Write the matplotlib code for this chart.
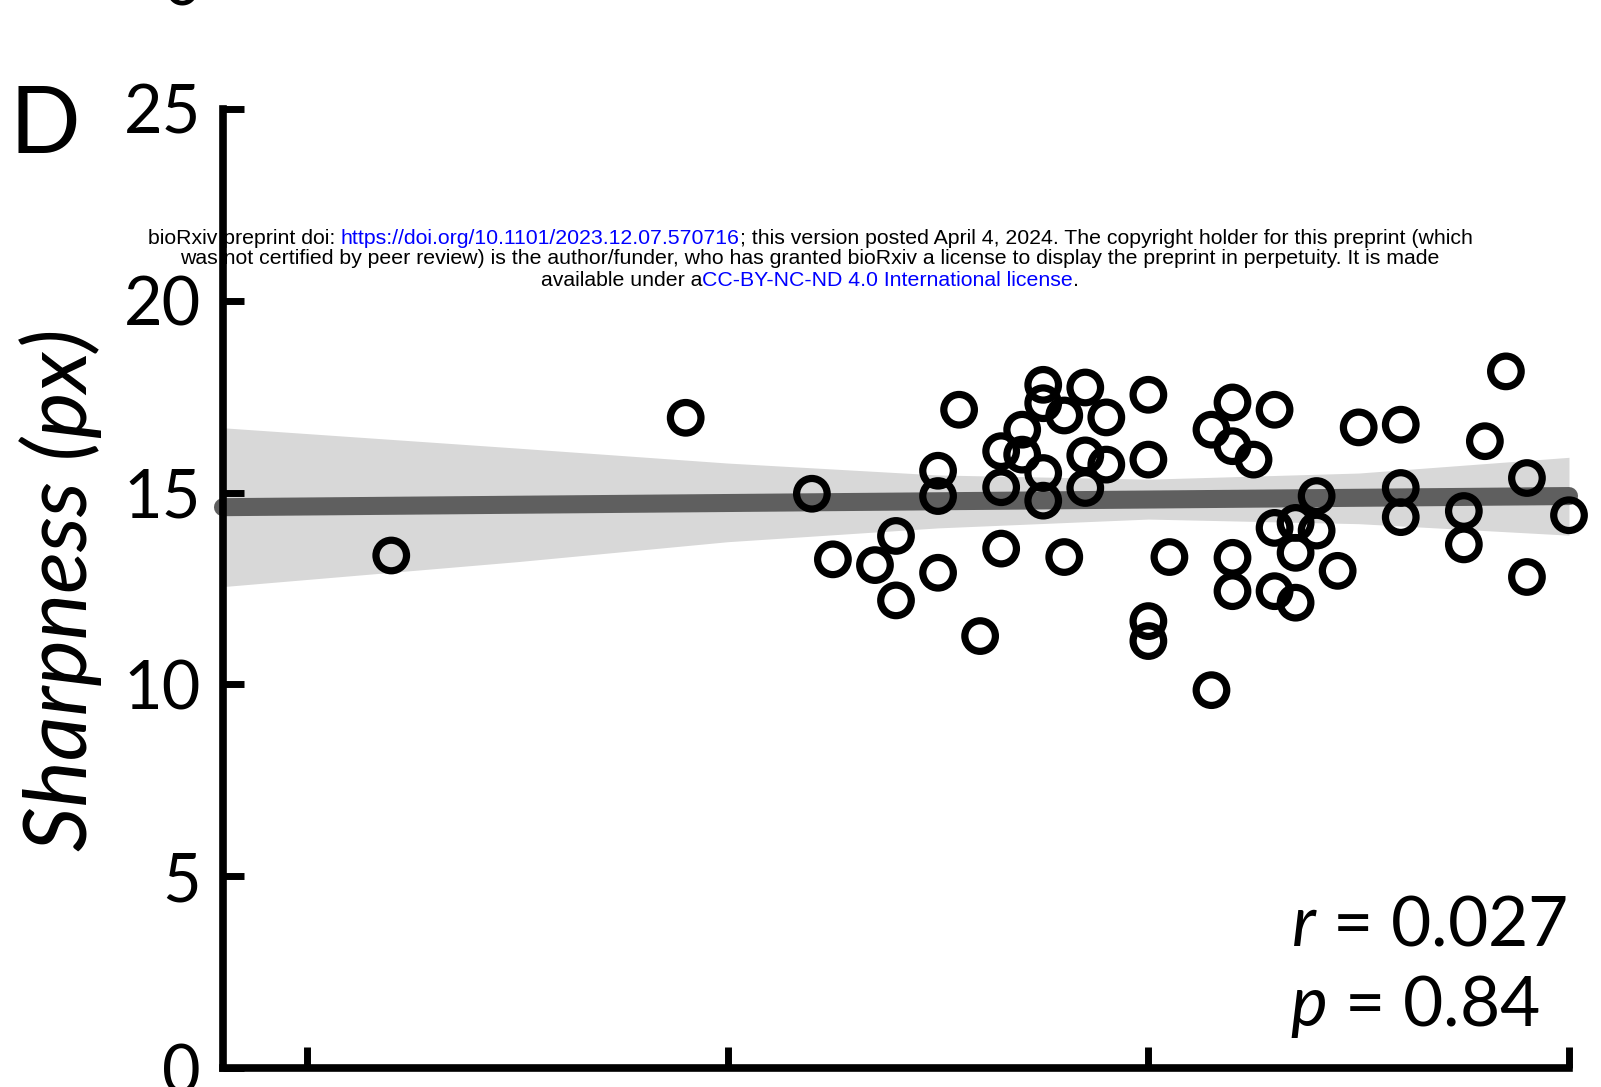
import matplotlib
matplotlib.use("Agg")
import matplotlib.pyplot as plt

W, H, DPI = 1601, 1087, 100

# ---------------- data ----------------
x_vals = [0.20, 0.90, 1.20, 1.25, 1.35, 1.40, 1.40, 1.50, 1.50, 1.50,
          1.55, 1.60, 1.65, 1.65, 1.65, 1.70, 1.70, 1.75, 1.75, 1.75,
          1.75, 1.80, 1.80, 1.85, 1.85, 1.85, 1.90, 1.90, 2.00, 2.00,
          2.00, 2.00, 2.05, 2.15, 2.15, 2.20, 2.20, 2.20, 2.20, 2.25,
          2.30, 2.30, 2.30, 2.35, 2.35, 2.35, 2.40, 2.40, 2.45, 2.50,
          2.60, 2.60, 2.60, 2.75, 2.75, 2.80, 2.85, 2.90, 2.90, 3.00]
y_vals = [13.36, 16.95, 14.97, 13.26, 13.11, 13.87, 12.19, 15.57, 14.91, 12.91,
          17.16, 11.26, 16.08, 15.14, 13.54, 16.64, 15.99, 17.81, 17.33, 15.51,
          14.79, 17.01, 13.32, 17.74, 15.97, 15.12, 16.96, 15.73, 17.55, 15.86,
          11.65, 11.13, 13.32, 16.64, 9.85, 17.35, 16.21, 13.30, 12.43, 15.86,
          14.08, 12.43, 17.16, 14.21, 13.43, 12.13, 14.91, 14.01, 12.96, 16.70,
          16.77, 15.12, 14.36, 14.52, 13.65, 16.34, 18.16, 15.38, 12.80, 14.41]

fit_x = [-0.2, 3.0]
fit_y = [14.62, 14.91]
band_x = [-0.2, 0.5, 1.0, 1.5, 2.0, 2.5, 3.0]
band_hi = [16.69, 16.16, 15.77, 15.46, 15.35, 15.51, 15.92]
band_lo = [12.55, 13.20, 13.72, 14.08, 14.31, 14.19, 13.89]

y_ticks = [0, 5, 10, 15, 20, 25]
y_tick_labels = ["0", "5", "10", "15", "20", "25"]
x_ticks = [0, 1, 2, 3]
y_label = "Sharpness (px)"
panel_label = "D"
stat_r = "0.027"
stat_p = "0.84"

header_lines = [
    [("bioRxiv preprint doi: ", "black"),
     ("https://doi.org/10.1101/2023.12.07.570716", "#0000ff"),
     ("; this version posted April 4, 2024. The copyright holder for this preprint (which", "black")],
    [("was not certified by peer review) is the author/funder, who has granted bioRxiv a license to display the preprint in perpetuity. It is made", "black")],
    [("available under a", "black"),
     ("CC-BY-NC-ND 4.0 International license", "#0000ff"),
     (".", "black")],
]

# ---------------- figure ----------------
plt.rcParams["mathtext.fontset"] = "custom"
plt.rcParams["mathtext.it"] = "Lato:italic"
plt.rcParams["mathtext.rm"] = "Lato"

fig = plt.figure(figsize=(W / DPI, H / DPI), dpi=DPI)
fig.patch.set_facecolor("white")

ax_left, ax_right, ax_top, ax_bot = 223, 1569, 109, 1068
ax = fig.add_axes([ax_left / W, (H - ax_bot) / H,
                   (ax_right - ax_left) / W, (ax_bot - ax_top) / H])
ax.patch.set_visible(False)

ax.fill_between(band_x, band_lo, band_hi, color="#d8d8d8", lw=0, zorder=1)
ax.plot(fit_x, fit_y, color="#5f5f5f", lw=13, solid_capstyle="round",
        zorder=2, clip_on=False)
ax.scatter(x_vals, y_vals, s=22 ** 2, facecolors="none", edgecolors="black",
           linewidths=5.2, zorder=3, clip_on=False)

ax.set_xlim(-0.2, 3.0)
ax.set_ylim(0, 25)
for side in ("top", "right"):
    ax.spines[side].set_visible(False)
for side in ("left", "bottom"):
    ax.spines[side].set_linewidth(5.5)
    ax.spines[side].set_capstyle("projecting")

ax.set_xticks(x_ticks)
ax.set_xticklabels([""] * len(x_ticks))
ax.set_yticks(y_ticks)
ax.set_yticklabels(y_tick_labels, family="Lato", fontsize=48)
ax.tick_params(axis="both", direction="in", length=15, width=5, colors="black")
ax.tick_params(axis="y", pad=16)

# y label
fig.text(61 / W, 1 - 590 / H, y_label, rotation=90, ha="center", va="center",
         fontsize=63, style="italic", family="Lato")

# panel label and clipped glyph of the panel above
fig.text(10 / W, 1 - 153 / H, panel_label, ha="left", va="baseline",
         fontsize=67, family="Lato")
fig.text(182 / W, 1 - 6 / H, "0", ha="center", va="baseline",
         fontsize=48, family="Lato")

# statistics
fig.text(1291 / W, 1 - 946 / H, r"$r$ = " + stat_r, ha="left", va="baseline",
         fontsize=50, family="Lato")
fig.text(1290 / W, 1 - 1026 / H, r"$p$ = " + stat_p, ha="left", va="baseline",
         fontsize=50, family="Lato")

# ---------------- header (multi-colour lines) ----------------
renderer = fig.canvas.get_renderer()


def text_w(s, fs):
    t = fig.text(0, 0, s, fontsize=fs, family="Liberation Sans")
    w = t.get_window_extent(renderer).width
    t.remove()
    return w


base_fs = 14.0
w1 = text_w("".join(s for s, _ in header_lines[0]), base_fs)
fs = base_fs * 1334.0 / w1
space_w = text_w("a a", fs) - text_w("aa", fs)

centers_y = [238, 259, 281]
for segs, yc in zip(header_lines, centers_y):
    parts = []
    total = 0.0
    for s, c in segs:
        lead = len(s) - len(s.lstrip(" "))
        trail = len(s) - len(s.rstrip(" "))
        core = s.strip(" ")
        cw = text_w(core, fs)
        parts.append((core, c, total + lead * space_w))
        total += lead * space_w + cw + trail * space_w
    x0 = 810 - total / 2.0
    for core, c, off in parts:
        fig.text((x0 + off) / W, 1 - yc / H, core, color=c, fontsize=fs,
                 family="Liberation Sans", ha="left", va="center", zorder=-1)

fig.savefig("out.png", dpi=DPI)
